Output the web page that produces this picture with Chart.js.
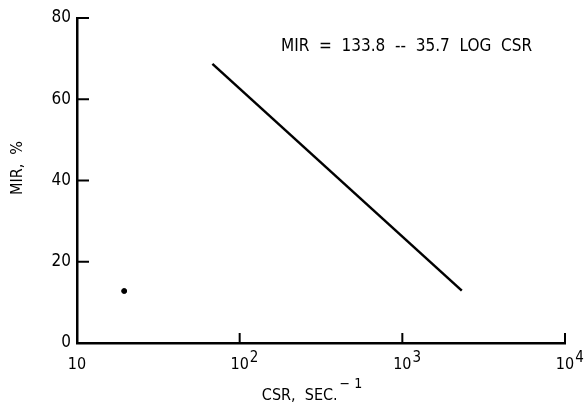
<!DOCTYPE html>
<html>
<head>
<meta charset="utf-8">
<script src="https://cdn.jsdelivr.net/npm/chart.js@4/dist/chart.umd.min.js"></script>
<style>
  body { margin: 0; background: #fff; }
  #wrap { width: 584px; height: 403px; }
</style>
</head>
<body>
<div id="wrap"><canvas id="c"></canvas></div>
<script>
// fitted line MIR = 133.8 - 35.7 log CSR, drawn between its two end points
const lineCsr = [68, 2320];
const lineMir = [68.7, 12.9];
// single measured point
const pointCsr = [19.5];
const pointMir = [12.8];

const xTicks = [10, 100, 1000, 10000];
const xTickExp = ['', '2', '3', '4'];
const yTicks = [0, 20, 40, 60, 80];

const fontFam = '"Liberation Sans Narrow", "DejaVu Sans Condensed", Arial, sans-serif';

// inward tick marks, x labels with exponents, titles and equation
const extras = {
  id: 'extras',
  afterDraw(chart) {
    const ctx = chart.ctx;
    const xs = chart.scales.x, ys = chart.scales.y;
    const a = chart.chartArea;
    ctx.save();
    ctx.strokeStyle = '#000';
    ctx.lineWidth = 2;
    xTicks.slice(1).forEach(v => {
      const px = xs.getPixelForValue(v);
      ctx.beginPath();
      ctx.moveTo(px, a.bottom);
      ctx.lineTo(px, a.bottom - 10);
      ctx.stroke();
    });
    yTicks.slice(1).forEach(v => {
      const py = ys.getPixelForValue(v);
      ctx.beginPath();
      ctx.moveTo(a.left, py);
      ctx.lineTo(a.left + 12, py);
      ctx.stroke();
    });

    ctx.fillStyle = '#000';
    ctx.textBaseline = 'alphabetic';
    xTicks.forEach((v, i) => {
      const px = xs.getPixelForValue(v);
      ctx.font = '16px ' + fontFam;
      ctx.textAlign = 'center';
      ctx.fillText('10', px, a.bottom + 26);
      if (xTickExp[i]) {
        const w = ctx.measureText('10').width;
        ctx.font = '15px ' + fontFam;
        ctx.textAlign = 'left';
        ctx.fillText(xTickExp[i], px + w / 2 + 1, a.bottom + 19);
      }
    });

    // x title
    ctx.font = '16px ' + fontFam;
    const main = 'CSR,  SEC.';
    const wMain = ctx.measureText(main).width;
    ctx.font = '14px ' + fontFam;
    const sup = '\u2212 1';
    const wSup = ctx.measureText(sup).width;
    let x0 = 312 - (wMain + wSup + 2) / 2;
    ctx.textAlign = 'left';
    ctx.font = '16px ' + fontFam;
    ctx.fillText(main, x0, 400);
    ctx.font = '14px ' + fontFam;
    ctx.fillText(sup, x0 + wMain + 2, 388);

    // y title
    ctx.save();
    ctx.translate(22, 168);
    ctx.rotate(-Math.PI / 2);
    ctx.font = '16px ' + fontFam;
    ctx.textAlign = 'center';
    ctx.fillText('MIR,  %', 0, 0);
    ctx.restore();

    // equation
    ctx.font = '17px ' + fontFam;
    ctx.textAlign = 'left';
    ctx.textBaseline = 'middle';
    ctx.fillText('MIR  =  133.8  --  35.7  LOG  CSR', 281, 47);
    ctx.restore();
  }
};

new Chart(document.getElementById('c'), {
  type: 'scatter',
  data: {
    datasets: [
      {
        data: lineCsr.map((x, i) => ({ x: x, y: lineMir[i] })),
        showLine: true,
        borderColor: '#000',
        borderWidth: 2.5,
        pointRadius: 0
      },
      {
        data: pointCsr.map((x, i) => ({ x: x, y: pointMir[i] })),
        backgroundColor: '#000',
        borderColor: '#000',
        pointRadius: 2.5
      }
    ]
  },
  options: {
    responsive: true,
    maintainAspectRatio: false,
    animation: false,
    layout: { padding: { top: 18, right: 19, left: 0, bottom: 0 } },
    plugins: { legend: { display: false }, tooltip: { enabled: false } },
    scales: {
      x: {
        type: 'logarithmic',
        min: 10,
        max: 10000,
        afterBuildTicks: s => { s.ticks = xTicks.map(v => ({ value: v })); },
        afterFit: s => { s.height = 60; },
        grid: { display: false, drawTicks: false },
        border: { display: true, color: '#000', width: 2.5 },
        ticks: { display: false }
      },
      y: {
        min: 0,
        max: 80,
        afterBuildTicks: s => { s.ticks = yTicks.map(v => ({ value: v })); },
        afterFit: s => { s.width = 77; },
        grid: { display: false, drawTicks: false },
        border: { display: true, color: '#000', width: 2.5 },
        ticks: {
          color: '#000',
          padding: 6,
          font: { family: fontFam, size: 17 }
        }
      }
    }
  },
  plugins: [extras]
});
</script>
</body>
</html>
